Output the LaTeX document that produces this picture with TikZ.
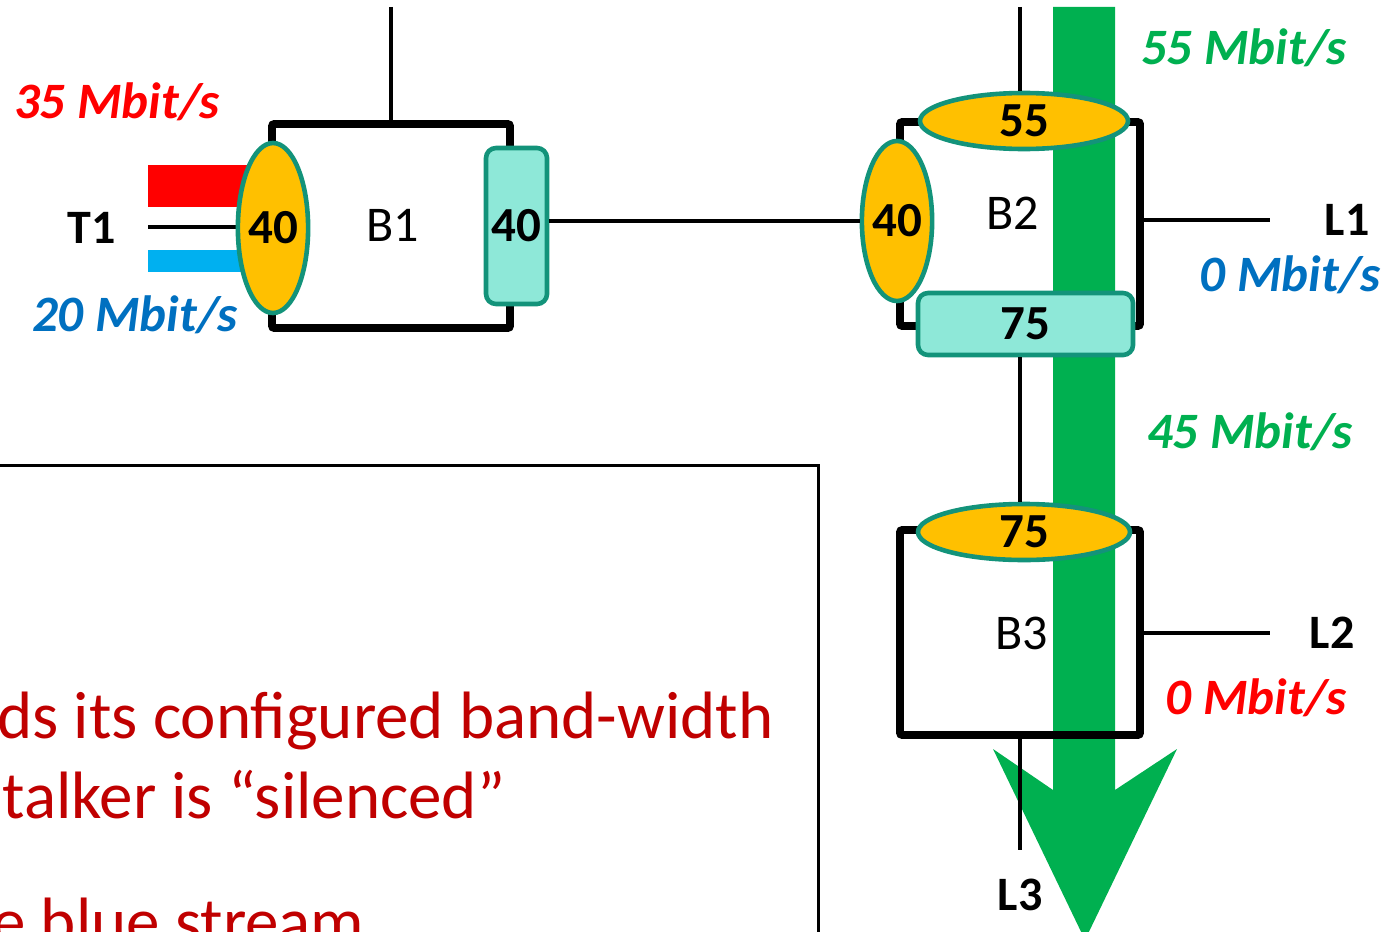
\documentclass[tikz,border=0pt]{standalone}
\usepackage{fontspec}
\setmainfont{Carlito}
\usetikzlibrary{shapes.geometric}
\definecolor{gfill}{HTML}{00B050}
\definecolor{ofill}{HTML}{FFC000}
\definecolor{tborder}{HTML}{13937A}
\definecolor{tfill}{HTML}{8EE8D8}
\definecolor{rlab}{HTML}{FF0000}
\definecolor{blab}{HTML}{0070C0}
\definecolor{cyanbar}{HTML}{00B0F0}
\definecolor{dred}{HTML}{C00000}
\begin{document}
\begin{tikzpicture}[x=0.5pt,y=-0.5pt,
  rate/.style={font=\fontsize{25.5}{30}\selectfont\bfseries\itshape, inner sep=0},
  lbl/.style={font=\fontsize{24}{28}\selectfont\bfseries, inner sep=0},
  bname/.style={font=\fontsize{25}{30}\selectfont, inner sep=0},
  port/.style={ellipse, draw=tborder, line width=2.3pt, fill=ofill, inner sep=0,
    font=\fontsize{24.5}{28}\selectfont\bfseries},
  shaper/.style={rectangle, draw=tborder, line width=2.3pt, fill=tfill, rounded corners=5pt,
    inner sep=0, font=\fontsize{24.5}{28}\selectfont\bfseries},
  bridge/.style={rectangle, draw, line width=3.8pt, rounded corners=1pt, inner sep=0},
  wire/.style={line width=2.3pt},
  note/.style={font=\fontsize{33.5}{40}\selectfont, text=dred, inner sep=0, anchor=base west}]
\useasboundingbox (0,0) rectangle (1396,931);
\clip (0,0) rectangle (1396,931);
% green stream arrow
\fill[gfill] (1053,7) -- (1115,7) -- (1115,790) -- (1177,749) -- (1085,940)
  -- (993,749) -- (1053,790) -- cycle;
% talker bars
\fill[rlab] (148,165) rectangle (252,207);
\fill[cyanbar] (148,250) rectangle (252,272);
% bridge boxes
\node[bridge, minimum width=119pt, minimum height=102pt] (B1box) at (391,226) {};
\node[bridge, minimum width=120pt, minimum height=102pt] (B2box) at (1020,224) {};
\node[bridge, minimum width=120pt, minimum height=102.5pt] (B3box) at (1020,632.5) {};
% coordinates
\coordinate (topA) at (391,7);
\coordinate (topB) at (1020,7);
\coordinate (t1w) at (148,227);
\coordinate (L1end) at (1270,220);
\coordinate (L2end) at (1270,633);
\coordinate (L3end) at (1020,850);
% wires
\draw[wire] (topA) -- (B1box.north);
\draw[wire] (t1w) -- (250,227);
\draw[wire] (B2box.east |- L1end) -- (L1end);
\draw[wire] (B3box.east |- L2end) -- (L2end);
% ports
\node[port, minimum width=31pt, minimum height=85pt] (P1) at (273,228) {40};
\node[shaper, minimum width=30.5pt, minimum height=78pt] (S1) at (516.5,226) {40};
\node[port, minimum width=31pt, minimum height=80pt] (P2) at (897,221) {40};
\node[port, minimum width=104pt, minimum height=28pt] (E55) at (1024,121) {55};
\node[shaper, minimum width=107.5pt, minimum height=31pt] (S75) at (1025.5,324) {75};
\node[port, minimum width=106pt, minimum height=28pt] (E75) at (1024,532) {75};
% connectors between ports
\draw[wire] (S1.east |- P2.west) -- (P2.west);
\draw[wire] (topB) -- (topB |- E55.north);
\draw[wire] (topB |- S75.south) -- (topB |- E75.north);
\draw[wire] (topB |- B3box.south) -- (L3end);
% labels
\node[bname] (B1) at (393,225) {B1};
\node[bname] (B2) at (1013,213) {B2};
\node[bname] (B3) at (1022,633) {B3};
\node[lbl] (T1) at (92,228) {T1};
\node[lbl] (L1) at (1347,220) {L1};
\node[lbl] (L2) at (1332,633) {L2};
\node[lbl] (L3) at (1020,895) {L3};
\node[rate, text=rlab] (r35) at (117,102) {35 Mbit/s};
\node[rate, text=blab] (r20) at (135,315) {20 Mbit/s};
\node[rate, text=gfill] (r55) at (1244,48) {55 Mbit/s};
\node[rate, text=blab] (r0a) at (1290,275) {0 Mbit/s};
\node[rate, text=gfill] (r45) at (1250,432) {45 Mbit/s};
\node[rate, text=rlab] (r0b) at (1256,698) {0 Mbit/s};
% note box
\coordinate (nbl) at (-10,465);
\coordinate (nbr) at (818,465);
\coordinate (nbb) at (818,945);
\draw[line width=1.5pt] (nbl) -- (nbr) -- (nbb);
\node[note] (n1) at (-3,738) {ds its configured band-width};
\node[note] (n2) at (2,818) {talker is “silenced”};
\node[note] (n3) at (-8,944) {e blue stream};
\end{tikzpicture}
\end{document}
